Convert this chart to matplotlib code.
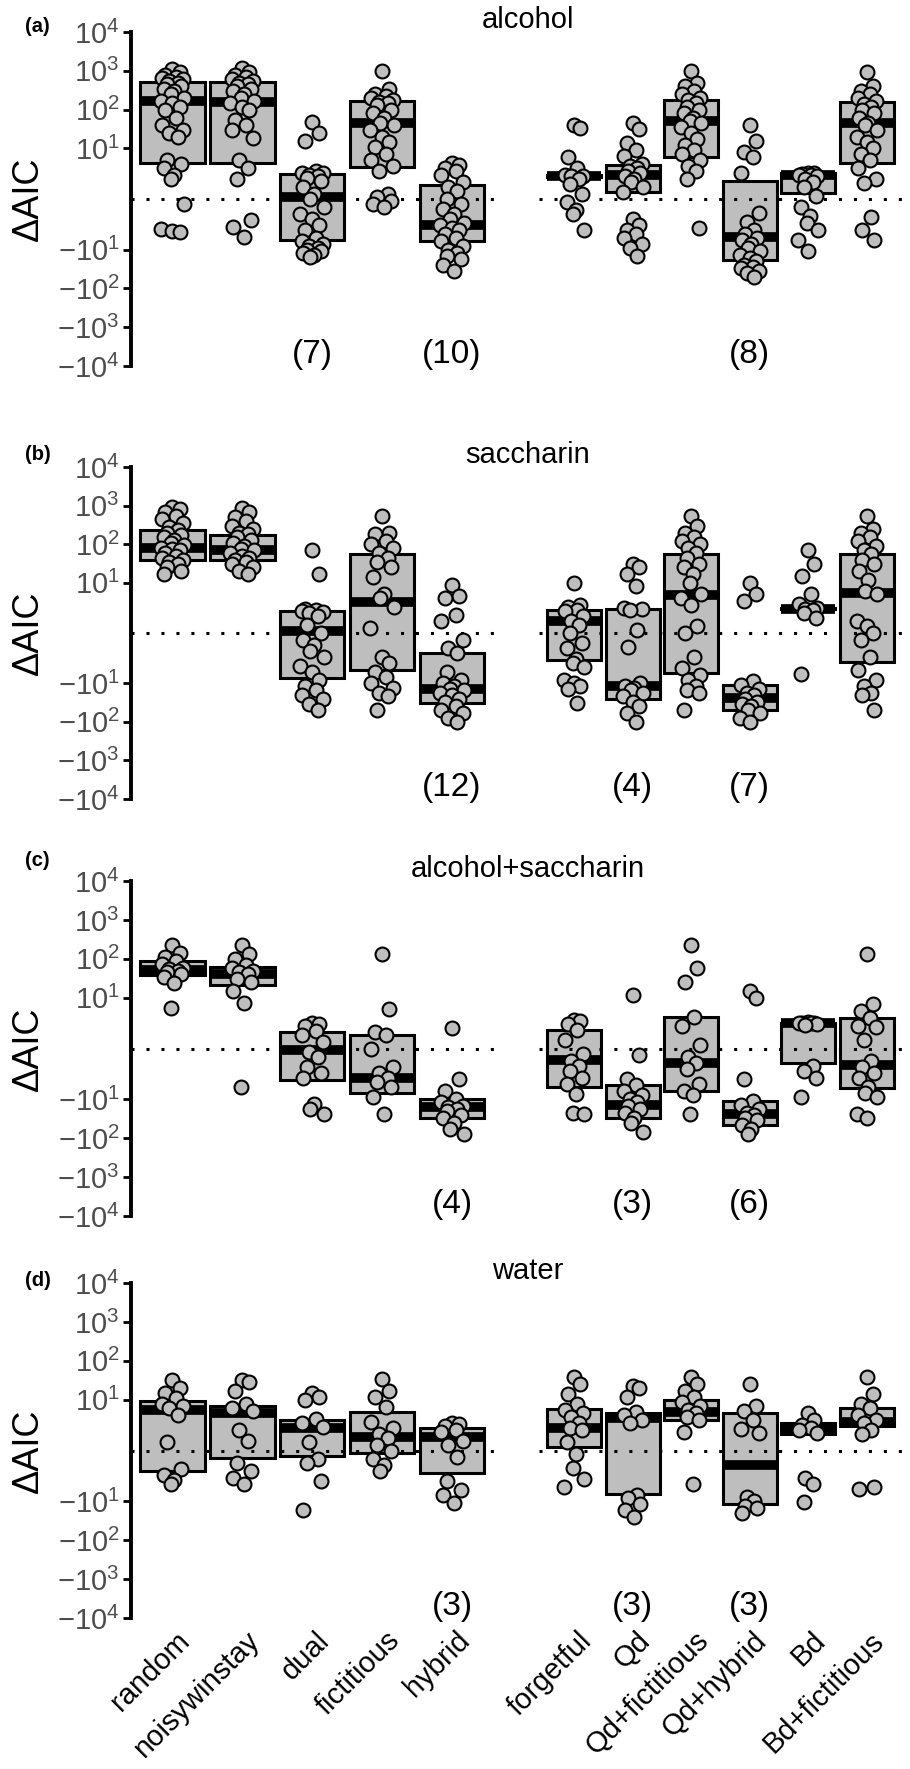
import numpy as np
import matplotlib
matplotlib.use("Agg")
import matplotlib.pyplot as plt
from matplotlib.ticker import NullLocator
from matplotlib.transforms import ScaledTranslation

plt.rcParams['font.family'] = ['Liberation Sans', 'DejaVu Sans']
plt.rcParams['mathtext.fontset'] = 'custom'
plt.rcParams['mathtext.rm'] = 'Liberation Sans'
plt.rcParams['mathtext.it'] = 'Liberation Sans:italic'
plt.rcParams['mathtext.bf'] = 'Liberation Sans:bold'

models = ["random", "noisywinstay", "dual", "fictitious", "hybrid",
          "forgetful", "Qd", "Qd+fictitious", "Qd+hybrid", "Bd", "Bd+fictitious"]
n_left = 5

conditions = ["alcohol", "saccharin", "alcohol+saccharin", "water"]
letters = ["(a)", "(b)", "(c)", "(d)"]

# box = lower quartile / median / upper quartile, one value per model
alcohol_q1 = [4.1, 4.1, -5.8, 3.3, -6.0, 1.7, 0.45, 6.0, -18.5, 0.34, 4.1]
alcohol_med = [165, 155, 0.14, 45, -2.3, 1.8, 1.9, 50, -4.7, 2.0, 45]
alcohol_q3 = [530, 530, 2.1, 165, 0.93, 1.9, 3.7, 175, 1.3, 2.2, 160]

saccharin_q1 = [38, 38, -7.2, -4.6, -33, -2.4, -25, -5.4, -50, 1.95, -2.7]
saccharin_med = [80, 70, 0.1, 3.1, -14, 0.8, -12, 4.9, -24, 2.0, 5.3]
saccharin_q3 = [230, 175, 1.75, 55, -1.45, 1.8, 2.0, 57, -11, 2.05, 57]

alcsac_q1 = [38, 21, -3.1, -6.8, -31, -4.7, -31, -6.2, -45, -1.0, -5.1]
alcsac_med = [52, 40, -0.1, -2.7, -16, -0.7, -14, -1.0, -24, 2.1, -1.1]
alcsac_q3 = [90, 63, 1.1, 0.85, -9.7, 1.35, -4.3, 3.1, -11, 2.2, 2.9]

water_q1 = [-1.5, -0.45, -0.3, -0.16, -1.8, 0.2, -6.5, 2.9, -11.5, 1.1, 2.0]
water_med = [5.3, 4.6, 1.8, 0.9, 0.85, 1.8, 3.3, 4.9, -1.0, 1.65, 2.6]
water_q3 = [9.2, 7.0, 3.0, 4.9, 1.75, 5.9, 4.5, 10, 4.5, 2.4, 6.3]

# individual delta AIC values
alcohol_points = {
    "random": [1100, 950, 800, 700, 650, 600, 550, 500, 450, 400, 350, 300, 250, 200, 170, 150,
               120, 100, 60, 40, 30, 25, 20, 5, 4, 3, 2, 1.5, -0.3, -2.8, -3.2, -3.5],
    "noisywinstay": [1150, 950, 800, 700, 600, 550, 500, 450, 400, 350, 300, 250, 200, 170, 150,
                     120, 100, 55, 40, 30, 19, 5, 3, 1.5, -1.6, -2.5, -4.8],
    "dual": [48, 25, 16, 2.5, 2.3, 2.2, 2.0, 1.8, 1.6, 1.3, 0.8, 0.3, 0.0, -0.5, -1.0, -1.5,
             -2.2, -3, -5, -6, -7, -8, -9, -10, -11, -12, -14, -16],
    "fictitious": [1000, 350, 250, 220, 200, 180, 160, 150, 130, 100, 80, 60, 45, 40, 30, 20,
                   15, 11, 7, 5, 3.5, 2.5, 0.3, 0.1, -0.1, -0.3, -0.5],
    "hybrid": [4.1, 3.8, 3, 2.5, 2, 1.2, 0.8, 0.5, 0, -0.3, -0.6, -1, -1.5, -2, -2.3, -2.7,
               -3, -4, -5, -6, -8, -10, -12, -15, -18, -25, -35],
    "forgetful": [40, 33, 6, 3, 2, 1.8, 1.8, 1.5, 1.0, 0.3, -0.2, -0.7, -1.0, -3.0],
    "Qd": [45, 32, 14, 9, 6.5, 4, 3.5, 3, 2.5, 2.2, 1.8, 1.5, 1.2, 0.8, 0.4, -1.5, -2.2, -3,
           -4, -5, -7, -9, -15],
    "Qd+fictitious": [1000, 500, 400, 300, 250, 200, 180, 150, 120, 100, 80, 60, 50, 45, 35,
                      25, 18, 12, 9, 7, 5, 3.5, 2.5, 1.5, -2.7],
    "Qd+hybrid": [40, 16, 8, 6, 2.2, -0.9, -1.8, -3, -4, -5, -5.5, -7, -9, -11, -14, -17, -20,
                  -25, -28, -30, -35, -40, -50],
    "Bd": [2.3, 2.2, 2.1, 2.0, 1.9, 1.8, 1.5, 1.2, 0.8, 0.2, -0.5, -1.2, -2.0, -3, -5.5, -11],
    "Bd+fictitious": [950, 400, 300, 250, 200, 170, 140, 120, 100, 80, 60, 45, 40, 30, 20, 15,
                      10, 7, 5, 3, 1.5, 1.1, -1.3, -3, -5.5],
}

saccharin_points = {
    "random": [900, 800, 700, 550, 450, 350, 280, 230, 200, 170, 150, 130, 110, 95, 80, 75, 70,
               60, 50, 45, 40, 35, 30, 25, 20, 17],
    "noisywinstay": [850, 700, 500, 400, 300, 250, 200, 180, 150, 130, 110, 90, 75, 70, 60, 50,
                     45, 40, 35, 30, 25, 20, 17],
    "dual": [70, 17, 2.0, 1.8, 1.7, 1.6, 1.5, 1.2, 0.5, 0.0, -0.4, -0.8, -1.3, -2, -3.5, -5, -8,
             -12, -15, -20, -25, -35, -50],
    "fictitious": [550, 200, 180, 120, 100, 80, 60, 45, 35, 25, 14, 5, 4, 2.3, 0.3, -2, -3, -5,
                   -7, -10, -13, -18, -22, -48],
    "hybrid": [8.5, 4.5, 4, 1.3, 0.8, -0.4, -1, -1.5, -5, -8, -10, -12, -14, -15, -18, -20, -25,
               -30, -40, -50, -60, -80, -100],
    "forgetful": [10, 2.6, 2.2, 1.9, 1.7, 1.2, 0.8, 0.5, 0.0, -0.6, -1, -2.2, -3, -3.8, -8, -10,
                  -12, -14, -32],
    "Qd": [30, 25, 17, 8, 2.1, 2.0, 1.9, 0.2, -0.9, -10, -12, -13, -15, -18, -22, -30, -40, -60,
           -100],
    "Qd+fictitious": [550, 300, 200, 150, 120, 100, 80, 60, 45, 30, 25, 17, 10, 5, 4, 2.5, 0.4,
                      0.0, -2, -4, -6, -8, -12, -15, -18, -50],
    "Qd+hybrid": [10, 5, 3.3, -9, -11, -14, -18, -20, -25, -30, -35, -40, -50, -60, -80, -100],
    "Bd": [70, 30, 15, 5, 2.7, 2.1, 2.0, 1.9, 1.5, 1.0, -5.8],
    "Bd+fictitious": [550, 250, 200, 150, 120, 90, 70, 55, 40, 30, 20, 12, 6, 5, 0.8, 0.4, 0.0,
                      -0.4, -2, -4.6, -8, -12, -18, -20, -50],
}

alcsac_points = {
    "random": [230, 140, 110, 90, 75, 60, 55, 50, 45, 40, 35, 24, 5.3],
    "noisywinstay": [230, 130, 100, 70, 60, 50, 45, 40, 30, 25, 15, 7.2, -4.8],
    "dual": [2.1, 2.0, 1.7, 1.2, 0.9, 0.4, -0.2, -0.5, -1.3, -2, -2.7, -13, -18, -24],
    "fictitious": [130, 5, 1.1, 0.9, 0.0, -1.3, -2, -2.7, -3.5, -4.8, -8.6, -24],
    "hybrid": [1.5, -2.9, -6, -10, -12, -15, -16, -18, -20, -25, -30, -40, -60, -80],
    "forgetful": [2.6, 2.4, 2.0, 1.3, 0.5, -0.3, -0.8, -1.2, -1.8, -2.7, -4, -7.2, -23, -24],
    "Qd": [12, -0.4, -3, -4.3, -6, -8, -10, -12, -15, -18, -22, -30, -40, -70],
    "Qd+fictitious": [230, 60, 25, 3.2, 1.7, 0.2, -0.5, -1.0, -1.5, -4, -6, -8, -24],
    "Qd+hybrid": [15, 10, -3, -11, -14, -18, -22, -25, -30, -35, -45, -60, -80],
    "Bd": [2.3, 2.2, 2.2, 2.1, 2.1, 2.0, 1.9, -1.2, -1.8, -2.7, -9],
    "Bd+fictitious": [130, 7, 4.5, 3, 1.8, 1.6, 0.5, -0.8, -1.3, -2, -2.7, -4.8, -7, -9, -24, -30],
}

water_points = {
    "random": [32, 20, 15, 11, 8, 7, 6, 4, 0.5, -1.3, -2, -2.8, -3.5],
    "noisywinstay": [32, 28, 17, 8, 6, 5, 1.5, 0.6, -0.8, -1.5, -2.5, -3.5],
    "dual": [15, 12, 10, 3.2, 2.4, 1.9, 0.5, -0.5, -0.8, -2.9, -17],
    "fictitious": [35, 17, 12, 6.5, 2.6, 1.8, 1.1, 0.8, 0.3, 0.0, -0.5, -1.0, -1.5],
    "hybrid": [2.5, 2.3, 2.0, 1.5, 1.3, 0.6, 0.3, -0.4, -2.9, -5, -7, -11],
    "forgetful": [38, 26, 14, 8, 5.3, 4.5, 3.5, 2.5, 1.8, 1.5, 0.5, -0.2, -1.2, -2.6, -4.4],
    "Qd": [22, 20, 12, 4.8, 4, 3, 2.5, -7, -8.5, -12, -17, -25],
    "Qd+fictitious": [38, 25, 17, 12, 9, 7, 5.5, 4.5, 3.5, 3, 1.3, -3.5],
    "Qd+hybrid": [25, 7, 5, 3, 1.6, 1.2, -8, -10, -13, -15, -20],
    "Bd": [4.5, 3, 2.2, 1.8, 1.5, 1.2, -2.4, -3.5, -10.5],
    "Bd+fictitious": [38, 14, 8, 6, 4, 3, 2.5, 1.5, 1.1, -4.4, -4.8],
}

# numbers printed under some models
alcohol_counts = {"dual": 7, "hybrid": 10, "Qd+hybrid": 8}
saccharin_counts = {"hybrid": 12, "Qd": 4, "Qd+hybrid": 7}
alcsac_counts = {"hybrid": 4, "Qd": 3, "Qd+hybrid": 6}
water_counts = {"hybrid": 3, "Qd": 3, "Qd+hybrid": 3}

y_ticks = [-1e4, -1e3, -1e2, -1e1, 1e1, 1e2, 1e3, 1e4]
y_tick_labels = [r"$-10^{4}$", r"$-10^{3}$", r"$-10^{2}$", r"$-10^{1}$",
                 r"$10^{1}$", r"$10^{2}$", r"$10^{3}$", r"$10^{4}$"]

FILL = "#bebebe"
W, H = 910, 1769
# fixed jitter pattern so points in a column spread a bit sideways
JIT = np.array([0.0, 0.6, -0.6, 0.3, -0.9, 0.9, -0.3, 0.45, -0.45, 0.75, -0.75, 0.15, -0.15, 1.0, -1.0])


def draw_group(ax, names, q1, med, q3, pts, counts):
    xs = np.arange(1, len(names) + 1)
    ax.set_yscale("function", functions=(np.arcsinh, np.sinh))
    ax.set_ylim(-1e4, 1e4)
    ax.set_xlim(0.4, len(names) + 0.6)

    q1 = np.array(q1)
    q3 = np.array(q3)
    ax.bar(xs, q3 - q1, bottom=q1, width=0.92, color=FILL, edgecolor="black",
           linewidth=2.2, zorder=2)
    ax.hlines(med, xs - 0.46, xs + 0.46, color="black", linewidth=7, zorder=3,
              capstyle="butt")
    ax.axhline(0, color="black", linestyle=(0, (1, 3.9)), linewidth=2.2, zorder=3.5)

    for x, n in zip(xs, names):
        vals = np.array(pts[n])
        offs = np.resize(JIT, len(vals)) * 0.17
        ax.scatter(x + offs, vals, s=100, facecolor=FILL, edgecolor="black",
                   linewidth=1.5, zorder=4, clip_on=False)
        if n in counts:
            ax.text(x, -5000, "(%d)" % counts[n], ha="center", va="center",
                    fontsize=24, color="black")

    for s in ax.spines.values():
        s.set_visible(False)
    ax.yaxis.set_minor_locator(NullLocator())
    ax.set_xticks([])
    ax.set_yticks([])


def main():
    fig = plt.figure(figsize=(W / 100, H / 100), dpi=100)

    tops = [32, 467, 881, 1283]
    bottoms = [366, 799, 1216, 1618]
    letter_y = [26, 455, 860, 1280]
    lx0, lx1 = 130.5, 494
    rx0, rx1 = 539, 901.7

    q1s = [alcohol_q1, saccharin_q1, alcsac_q1, water_q1]
    meds = [alcohol_med, saccharin_med, alcsac_med, water_med]
    q3s = [alcohol_q3, saccharin_q3, alcsac_q3, water_q3]
    points = [alcohol_points, saccharin_points, alcsac_points, water_points]
    counts = [alcohol_counts, saccharin_counts, alcsac_counts, water_counts]

    for i in range(4):
        t, b = tops[i], bottoms[i]
        axl = fig.add_axes([lx0 / W, 1 - b / H, (lx1 - lx0) / W, (b - t) / H])
        axr = fig.add_axes([rx0 / W, 1 - b / H, (rx1 - rx0) / W, (b - t) / H])

        draw_group(axl, models[:n_left], q1s[i][:n_left], meds[i][:n_left],
                   q3s[i][:n_left], points[i], counts[i])
        draw_group(axr, models[n_left:], q1s[i][n_left:], meds[i][n_left:],
                   q3s[i][n_left:], points[i], counts[i])

        # y axis only on the left group
        axl.spines["left"].set_visible(True)
        axl.spines["left"].set_linewidth(2.8)
        axl.set_yticks(y_ticks, y_tick_labels)
        axl.tick_params(axis="y", length=5.8, width=2, color="black",
                        labelcolor="#4d4d4d", labelsize=21, pad=2)

        fig.text(28 / W, 1 - (t + b) / 2 / H, "ΔAIC", rotation=90, ha="center",
                 va="center", fontsize=26)
        fig.text(528 / W, 1 - (t - 4) / H, conditions[i], ha="center",
                 va="baseline", fontsize=21)
        fig.text(25 / W, 1 - letter_y[i] / H, letters[i], ha="left", va="center",
                 fontsize=14.5, fontweight="bold")

        if i == 3:
            shift = ScaledTranslation(3 / 100, 0, fig.dpi_scale_trans)
            for ax, names in [(axl, models[:n_left]), (axr, models[n_left:])]:
                ax.set_xticks(np.arange(1, len(names) + 1), names)
                ax.tick_params(axis="x", length=0, pad=6, labelsize=21)
                for lab in ax.get_xticklabels():
                    lab.set_rotation(45)
                    lab.set_ha("right")
                    lab.set_va("top")
                    lab.set_rotation_mode("anchor")
                    lab.set_transform(lab.get_transform() + shift)

    plt.savefig("out.png", dpi=100)


if __name__ == "__main__":
    main()
